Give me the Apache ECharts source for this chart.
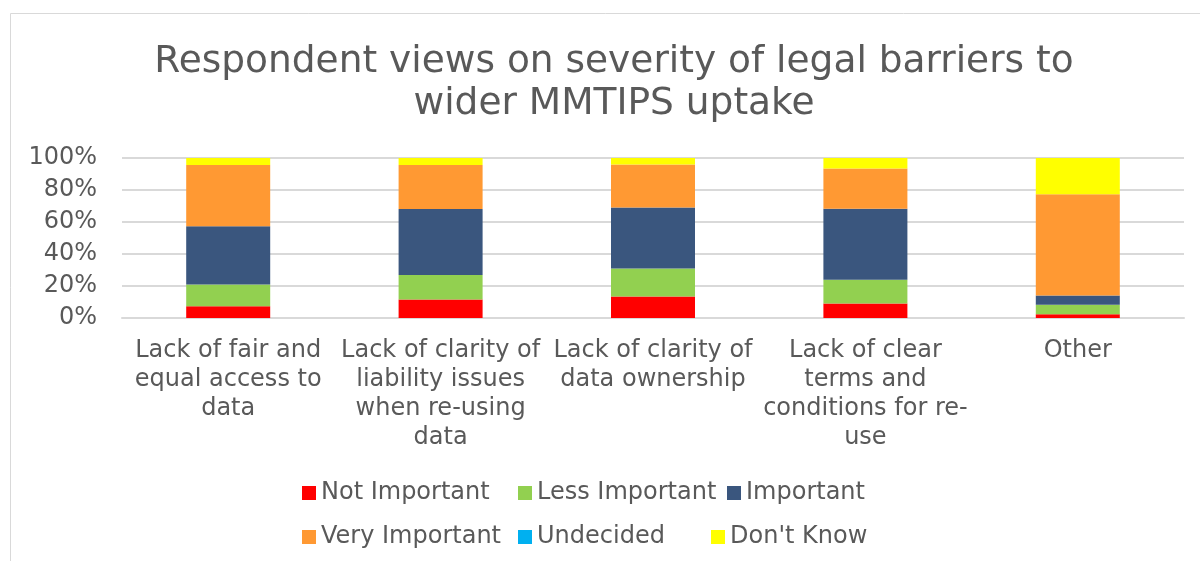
<!DOCTYPE html>
<html>
<head>
<meta charset="utf-8">
<script src="https://cdn.jsdelivr.net/npm/echarts@6/dist/echarts.min.js"></script>
<style>
  html, body { margin: 0; padding: 0; background: #fff; }
  #chart { width: 1200px; height: 561px; }
</style>
</head>
<body>
<div id="chart"></div>
<script>
// categories (x axis)
var categories = [
    'Lack of fair and\nequal access to\ndata',
    'Lack of clarity of\nliability issues\nwhen re-using\ndata',
    'Lack of clarity of\ndata ownership',
    'Lack of clear\nterms and\nconditions for re-\nuse',
    'Other'
];
// share of respondents, %
var notImportant  = [7.3, 11.6, 13.5, 9.1, 2.3];
var lessImportant = [13.7, 15.3, 17.5, 14.8, 6.0];
var important     = [36.3, 41.2, 38.1, 44.4, 5.8];
var veryImportant = [38.3, 27.5, 26.9, 25.2, 63.2];
var undecided     = [0, 0, 0, 0, 0];
var dontKnow      = [4.4, 4.4, 4.0, 6.5, 22.7];

var seriesNames = ['Not Important', 'Less Important', 'Important', 'Very Important', 'Undecided', "Don't Know"];
var seriesData = [notImportant, lessImportant, important, veryImportant, undecided, dontKnow];
var colors = ['#ff0000', '#92d050', '#3a567e', '#ff9933', '#00b0f0', '#ffff00'];

var textColor = '#595959';
var fontFamily = '"DejaVu Sans", Verdana, sans-serif';

// legend positions (two rows like the original)
var legendPos = [
    {left: 302, top: 481}, {left: 518, top: 481}, {left: 727, top: 481},
    {left: 302, top: 525}, {left: 518, top: 525}, {left: 711, top: 525}
];

var myChart = echarts.init(document.getElementById('chart'));

var option = {
    animation: false,
    color: colors,
    textStyle: {fontFamily: fontFamily},
    title: {
        text: 'Respondent views on severity of legal barriers to\nwider MMTIPS uptake',
        left: 609,
        textAlign: 'center',
        top: 36,
        textStyle: {
            color: textColor,
            fontSize: 37.5,
            fontWeight: 'normal',
            fontFamily: fontFamily,
            lineHeight: 42
        }
    },
    legend: seriesNames.map(function (name, i) {
        return {
            data: [name],
            left: legendPos[i].left,
            top: legendPos[i].top,
            itemWidth: 14,
            itemHeight: 14,
            itemGap: 0,
            icon: 'rect',
            padding: 0,
            textStyle: {color: textColor, fontSize: 24, fontFamily: fontFamily}
        };
    }),
    grid: {
        left: 122,
        right: 16,
        top: 158,
        bottom: 243
    },
    xAxis: {
        type: 'category',
        data: categories,
        axisLine: {show: true, lineStyle: {color: '#d9d9d9', width: 2}},
        axisTick: {show: false},
        axisLabel: {
            color: textColor,
            fontSize: 24,
            fontFamily: fontFamily,
            lineHeight: 29,
            margin: 18,
            interval: 0
        }
    },
    yAxis: {
        type: 'value',
        min: 0,
        max: 100,
        interval: 20,
        axisLine: {show: false},
        axisTick: {show: false},
        splitLine: {lineStyle: {color: '#d9d9d9', width: 2}},
        axisLabel: {
            formatter: '{value}%',
            color: textColor,
            fontSize: 24,
            fontFamily: fontFamily,
            margin: 25
        }
    },
    graphic: [{
        type: 'rect',
        shape: {x: 10.5, y: 13.5, width: 1300, height: 700},
        style: {fill: 'none', stroke: '#d9d9d9', lineWidth: 1},
        silent: true
    }],
    series: seriesNames.map(function (name, i) {
        return {
            name: name,
            type: 'bar',
            stack: 'total',
            barWidth: 84,
            data: seriesData[i],
            itemStyle: {color: colors[i]}
        };
    })
};

myChart.setOption(option);
</script>
</body>
</html>
